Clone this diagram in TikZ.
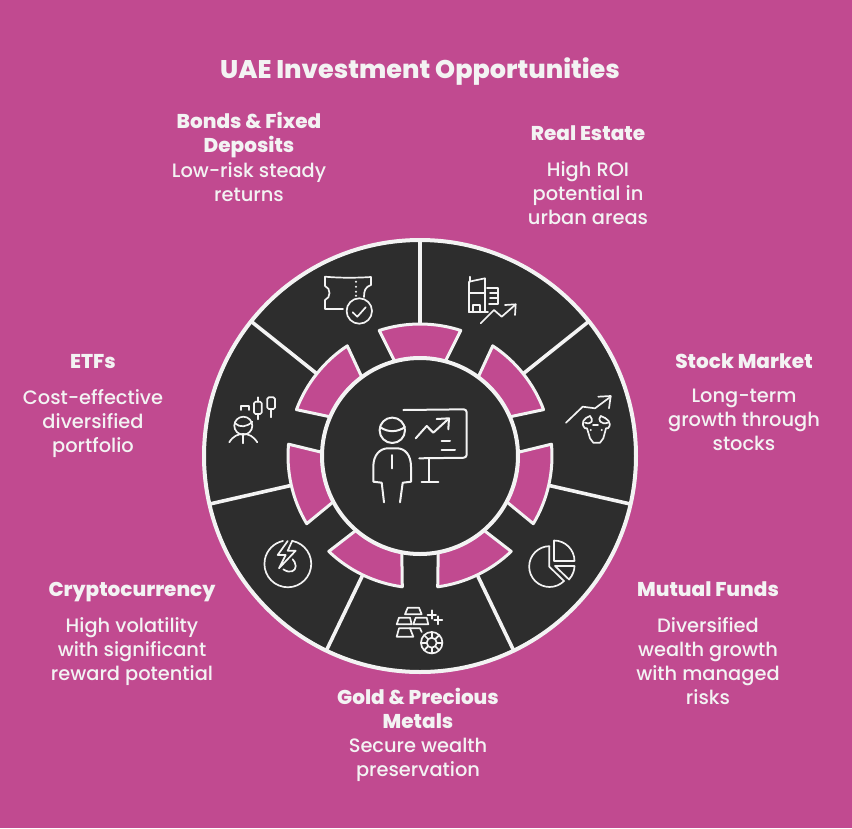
\documentclass[tikz,border=0pt]{standalone}
\usepackage{fontspec}
\usepackage{xcolor}
\setmainfont{Poppins Medium}
\usetikzlibrary{positioning}
\definecolor{plumbg}{RGB}{193, 74, 144}
\definecolor{wheeldark}{RGB}{45, 45, 45}
\definecolor{chalk}{RGB}{243, 243, 243}

\begin{document}
\begin{tikzpicture}[
  x=1pt, y=-1pt,
  heading/.style={inner sep=0pt, align=center, text=chalk, font=\fontsize{20}{24}\selectfont\bfseries, execute at begin node=\strut, execute at end node=\strut},
  blurb/.style={inner sep=0pt, align=center, text=chalk, font=\fontsize{19.4}{24}\selectfont, execute at begin node=\strut, execute at end node=\strut},
  rim/.style={draw=chalk, line width=4pt},
  spoke/.style={draw=chalk, line width=3.6pt},
  petal/.style={draw=chalk, fill=plumbg, line width=3pt, line join=round},
  glyph/.style={draw=chalk, line width=1.7pt, line cap=round, line join=round},
  bigglyph/.style={glyph, line width=2pt}
]
  \useasboundingbox[fill=plumbg] (0,0) rectangle (852,828);

  % wheel
  \coordinate (hub) at (420,456);
  \fill[wheeldark] (hub) circle[radius=216pt];
  \draw[rim] (hub) circle[radius=216pt];
  \begin{scope}[shift={(hub)}]
    \foreach \a in {90, 38.57, -12.86, -64.29, -115.71, -167.14, 141.43} {
      \draw[spoke] (\a:132pt) -- (\a:216pt);
      \draw[petal] (\a-15:98pt) arc[start angle=\a-15, end angle=\a+15, radius=98pt]
        -- (\a+18:132pt) arc[start angle=\a+18, end angle=\a-18, radius=132pt] -- cycle;
    }
  \end{scope}
  \fill[wheeldark] (hub) circle[radius=98pt];
  \draw[rim] (hub) circle[radius=98pt];

  % texts
  \node[heading, font=\fontsize{25.5}{24}\selectfont\bfseries] (title) at (420,72) {UAE Investment Opportunities};

  \node[heading] (bondshead) at (249,136) {Bonds \& Fixed\\Deposits};
  \node[blurb, below=2pt of bondshead] (bondstext) {Low-risk steady\\returns};
  \node[heading] (estatehead) at (588,136) {Real Estate};
  \node[blurb, below=13pt of estatehead] (estatetext) {High ROI\\potential in\\urban areas};
  \node[heading] (stockhead) at (744,364) {Stock Market};
  \node[blurb, below=13pt of stockhead] (stocktext) {Long-term\\growth through\\stocks};
  \node[heading] (fundshead) at (708,592) {Mutual Funds};
  \node[blurb, below=13pt of fundshead] (fundstext) {Diversified\\wealth growth\\with managed\\risks};
  \node[heading] (goldhead) at (418,712) {Gold \& Precious\\Metals};
  \node[blurb, below=2pt of goldhead] (goldtext) {Secure wealth\\preservation};
  \node[heading] (cryptohead) at (132,592) {Cryptocurrency};
  \node[blurb, below=13pt of cryptohead] (cryptotext) {High volatility\\with significant\\reward potential};
  \node[heading] (etfhead) at (93,364) {ETFs};
  \node[blurb, below=13pt of etfhead] (etftext) {Cost-effective\\diversified\\portfolio};

  % presenter at the board
  \draw[bigglyph] (392.3,430.3) circle[radius=12.7pt];
  \draw[bigglyph] (380,427) .. controls (388,433) and (398,432) .. (405,427);
  \draw[bigglyph] (384,502.3) -- (381.7,482.7) -- (373.3,481.7) -- (373.3,466.7)
    .. controls (373.3,455) and (380,448.3) .. (388,448.3) -- (397,448.3)
    .. controls (405,448.3) and (411,455) .. (411,466.7) -- (411,481.7) -- (402.7,482.7) -- (400,502.3);
  \draw[bigglyph] (391.7,455) -- (391.7,468.3);
  \draw[bigglyph, rounded corners=3pt] (403.3,410) -- (466.7,409.3) -- (466.7,457.7) -- (419.3,458.3);
  \draw[bigglyph] (429.3,458.3) -- (429.3,481.7);
  \draw[bigglyph] (421.7,481.7) -- (438.3,481.7);
  \draw[bigglyph] (415.7,438.3) -- (426.7,426) -- (433.3,432.7) -- (448.3,419);
  \draw[bigglyph] (436.7,419) -- (449,418.3) -- (448.3,429.3);
  \draw[bigglyph] (441.7,441.3) -- (450,441.3);
  \draw[bigglyph] (441.7,450) -- (455,450);

  % ticket
  \draw[glyph] (343,309) -- (325,309) -- (325,300)
    .. controls (331,298) and (331,288) .. (325,286) -- (325,276.7)
    .. controls (340,278) and (356,278) .. (371,277) -- (371,285)
    .. controls (365,287) and (364,291) .. (364,297);
  \foreach \y in {281.7, 286.7, 291.7, 295.7} {
    \fill[chalk] (356,\y) circle[radius=1.1pt];
  }
  \draw[glyph] (359.3,311) circle[radius=12.7pt];
  \draw[glyph] (352.7,312.3) -- (357.3,316.7) -- (365.7,307.3);

  % buildings
  \draw[glyph] (470,276.7) -- (470,281.7);
  \draw[glyph] (469,312.3) -- (469,281.7) -- (485,278.3) -- (485,312.3);
  \draw[glyph] (469,312.3) -- (488,312.3);
  \draw[glyph] (473.3,312.3) -- (473.3,305) -- (480,305) -- (480,312.3);
  \draw[glyph] (470,293.3) -- (485,293.3);
  \draw[glyph] (487,288.3) -- (498.3,288.3) -- (498.3,304) -- (489,304);
  \draw[glyph] (490,293.3) -- (498.3,293.3);
  \draw[glyph] (490,298.3) -- (498.3,298.3);
  \draw[glyph] (480.7,323.3) -- (494,310) -- (501.7,316.7) -- (515,305);
  \draw[glyph] (505,305) -- (515.7,304.3) -- (515,315);

  % bull
  \draw[glyph] (566,422.7) -- (582.7,406.7) -- (595,408.3) -- (610.7,396.7);
  \draw[glyph] (598.3,396.7) -- (610.7,396) -- (609,408.3);
  \draw[glyph] (590,416) .. controls (584,418) and (580,423) .. (585,428.3)
    -- (587,428.3) -- (590,438.3) -- (593.3,442.7) -- (600,442.7) -- (603.3,438.3) -- (606,428.3) -- (608,428.3)
    .. controls (613,423) and (607,418) .. (600.7,416);
  \draw[glyph] (590,416) .. controls (594,420) and (592,425) .. (585,422.7);
  \draw[glyph] (600.7,416) .. controls (597,420) and (601,425) .. (608,422.7);
  \draw[glyph] (593,425) -- (598,425);
  \fill[chalk] (590.7,430) circle[radius=1.1pt];
  \fill[chalk] (601.7,430) circle[radius=1.1pt];

  % pie
  \draw[glyph] (549.3,546.7) -- (549.3,566.7) -- (564,581);
  \draw[glyph] (564,581) arc[start angle=-45, end angle=-270, radius=20.4pt];
  \draw[glyph] (554,540.5) arc[start angle=90, end angle=0, radius=20.5pt] -- (554,561) -- cycle;
  \draw[glyph] (555,566) -- (574.5,566) .. controls (574.5,570) and (573,575) .. (569,579.5) -- cycle;

  % gold bars and gem
  \draw[glyph] (405,614.3) -- (407.7,607.7) -- (419,607.7) -- (421.7,614.3) -- cycle;
  \draw[glyph] (396.7,624.3) -- (399,617.7) -- (410,617.7) -- (411.7,624.3) -- cycle;
  \draw[glyph] (413.3,624.3) -- (415.7,617.7) -- (426.7,617.7) -- (428.3,624.3) -- cycle;
  \draw[glyph] (396.7,636.7) -- (399,628.3) -- (410,628.3) -- (413.3,636.7) -- cycle;
  \draw[glyph] (410,628.3) -- (420,628.3) -- (421.7,632);
  \draw[glyph] (431.7,610.3) -- (431.7,618.7);
  \draw[glyph] (427.5,614.7) -- (436,614.7);
  \draw[glyph] (438.3,616.3) -- (438.3,624.3);
  \draw[glyph] (434.3,620) -- (442.3,620);
  \draw[glyph] (431.7,642.7) circle[radius=10.7pt];
  \draw[glyph] (431.7,642.7) circle[radius=5pt];
  \foreach \a in {0, 45, 90, 135, 180, 225, 270, 315} {
    \draw[glyph] ([shift={(\a:5pt)}]431.7,642.7) -- ([shift={(\a:10.7pt)}]431.7,642.7);
  }

  % lightning in a ring
  \draw[glyph] (292.3,540.9) arc[start angle=79, end angle=-258, radius=23.4pt];
  \draw[glyph] (287.7,541) -- (277.7,555) -- (285.7,555) -- (279,568.3) -- (295.7,550.7) -- (287.7,550.7) -- (292.3,540.7);
  \draw[glyph] (283.3,569.3) .. controls (290,574) and (296,571) .. (295.7,566) .. controls (295.7,563) and (294,561) .. (292.7,559.3);

  % trader and candles
  \draw[glyph] (243.3,425.7) circle[radius=9pt];
  \draw[glyph] (235,423.3) .. controls (240,428) and (247,427) .. (252.3,421.7);
  \draw[glyph] (229.3,442.3) .. controls (233,436) and (238,434) .. (243.3,434) .. controls (249,434) and (253,436) .. (257.3,442.3);
  \draw[glyph] (243.3,434) -- (243.3,443.3);
  \draw[glyph] (241,410) -- (241,405.7) -- (249.3,405.7) -- (249.3,410);
  \draw[glyph, rounded corners=1.5pt] (254,401.7) rectangle (261.7,414);
  \draw[glyph] (258,397.3) -- (258,401.7);
  \draw[glyph] (258,414) -- (258,419.3);
  \draw[glyph, rounded corners=1.5pt] (267.3,397.3) rectangle (275,409);
  \draw[glyph] (271,409) -- (271,417.3);
\end{tikzpicture}
\end{document}
